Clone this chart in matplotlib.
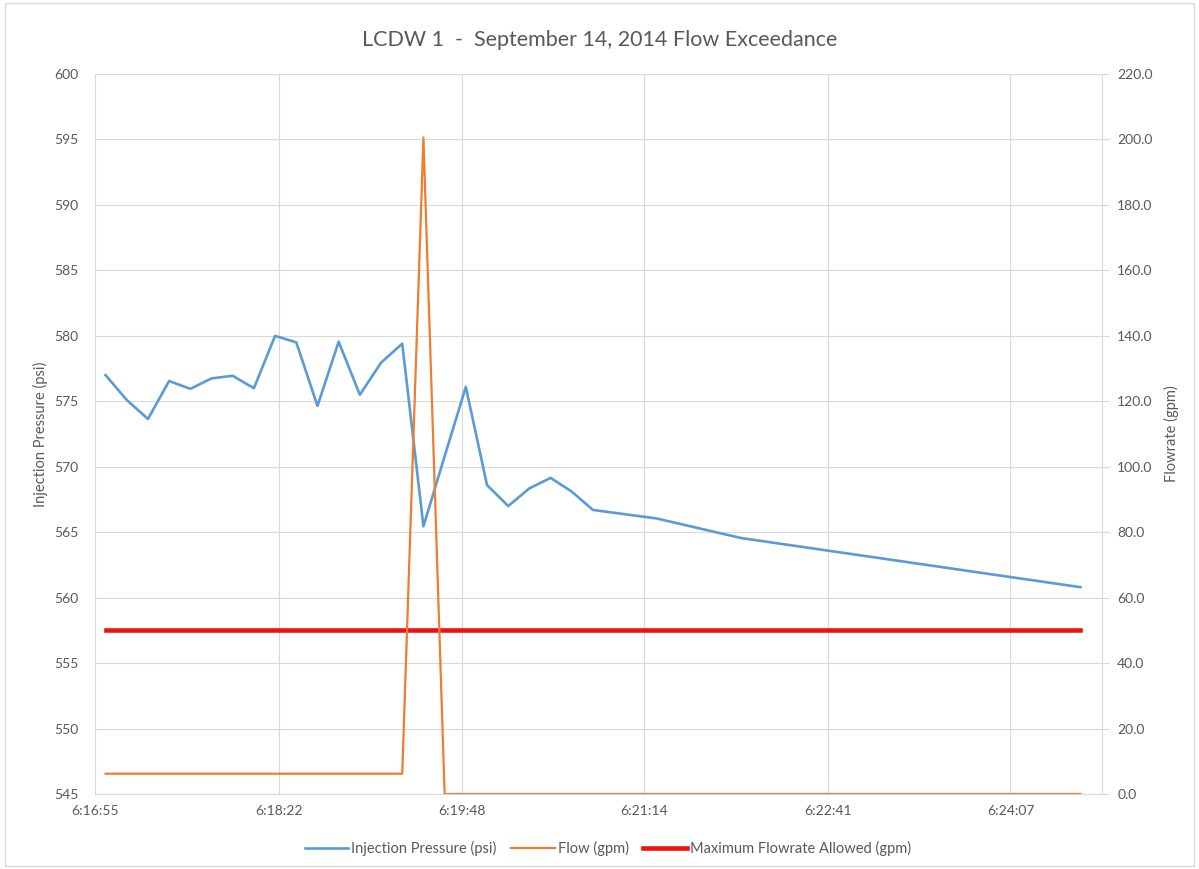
"""LCDW 1 - September 14, 2014 flow exceedance chart (dual axis)."""

import matplotlib

matplotlib.use("Agg")
import matplotlib.pyplot as plt
from matplotlib.patches import Rectangle

plt.rcParams["font.family"] = ["Lato", "DejaVu Sans"]

# sample times (h:mm:ss) shared by all series
times = [
    "6:17:00", "6:17:10", "6:17:20", "6:17:30", "6:17:40", "6:17:50",
    "6:18:00", "6:18:10", "6:18:20", "6:18:30", "6:18:40", "6:18:50",
    "6:19:00", "6:19:10", "6:19:20", "6:19:30", "6:19:40", "6:19:50",
    "6:20:00", "6:20:10", "6:20:20", "6:20:30", "6:20:40", "6:20:50",
    "6:21:20", "6:21:40", "6:22:00", "6:24:40",
]
pressure_psi = [
    577.0, 575.1, 573.65, 576.55, 575.95, 576.75,
    576.95, 576.0, 580.0, 579.5, 574.65, 579.55,
    575.5, 577.95, 579.4, 565.45, 570.8, 576.1,
    568.6, 567.0, 568.35, 569.15, 568.1, 566.7,
    566.05, 565.3, 564.55, 560.8,
]
flow_gpm = [
    6.2, 6.2, 6.2, 6.2, 6.2, 6.2,
    6.2, 6.2, 6.2, 6.2, 6.2, 6.2,
    6.2, 6.2, 6.2, 200.6, 0.0, 0.0,
    0.0, 0.0, 0.0, 0.0, 0.0, 0.0,
    0.0, 0.0, 0.0, 0.0,
]
max_flow_allowed_gpm = 50.0

x_tick_labels = ["6:16:55", "6:18:22", "6:19:48", "6:21:14", "6:22:41", "6:24:07"]
psi_ticks = [545, 550, 555, 560, 565, 570, 575, 580, 585, 590, 595, 600]
gpm_ticks = [0, 20, 40, 60, 80, 100, 120, 140, 160, 180, 200, 220]


def to_seconds(label):
    h, m, s = (int(p) for p in label.split(":"))
    return h * 3600 + m * 60 + s


t = [to_seconds(v) for v in times]
x_min = to_seconds(x_tick_labels[0])
x_max = x_min + 0.0055 * 86400

TEXT = "#595959"
GRID = "#d9d9d9"

fig = plt.figure(figsize=(11.99, 8.69), dpi=100)
fig.patches.append(Rectangle((0.004, 0.003), 0.992, 0.994, transform=fig.transFigure,
                             fill=False, edgecolor=GRID, linewidth=1.0))
ax = fig.add_axes([0.0792, 0.0863, 0.9191 - 0.0792, 0.9148 - 0.0863])
ax2 = ax.twinx()

ax.plot(t, pressure_psi, color="#5b9bd5", linewidth=1.9, label="Injection Pressure (psi)", zorder=3)
ax2.plot(t, flow_gpm, color="#ed7d31", linewidth=1.6, label="Flow (gpm)", zorder=3)
ax2.plot(t, [max_flow_allowed_gpm] * len(t), color="#ee1111", linewidth=3.3,
         label="Maximum Flowrate Allowed (gpm)", zorder=2)

ax.set_xlim(x_min, x_max)
ax.set_ylim(545, 600)
ax2.set_ylim(0, 220)
ax.set_xticks([to_seconds(v) for v in x_tick_labels])
ax.set_xticklabels(x_tick_labels)
ax.set_yticks(psi_ticks)
ax.set_yticklabels([str(v) for v in psi_ticks])
ax2.set_yticks(gpm_ticks)
ax2.set_yticklabels([f"{v:.1f}" for v in gpm_ticks])

ax.grid(True, color=GRID, linewidth=0.8)
ax.set_axisbelow(True)
for a in (ax, ax2):
    for side in ("top", "left", "right", "bottom"):
        a.spines[side].set_visible(False)
ax.spines["bottom"].set_visible(True)
ax.spines["bottom"].set_color(GRID)
ax2.spines["right"].set_visible(True)
ax2.spines["right"].set_color(GRID)

ax.tick_params(axis="x", length=0, pad=8, labelsize=10, labelcolor=TEXT)
ax.tick_params(axis="y", length=0, pad=12, labelsize=10, labelcolor=TEXT)
ax2.tick_params(axis="y", length=5, color=GRID, pad=6, labelsize=10, labelcolor=TEXT)

ax.set_ylabel("Injection Pressure (psi)", fontsize=10.5, color=TEXT, labelpad=4)
ax2.set_ylabel("Flowrate (gpm)", fontsize=10.5, color=TEXT, labelpad=8)

fig.suptitle("LCDW 1  -  September 14, 2014 Flow Exceedance", y=0.966, fontsize=15.5, color=TEXT)

handles = ax.get_lines() + ax2.get_lines()
fig.legend(handles, [h.get_label() for h in handles], loc="lower center", ncol=3,
           bbox_to_anchor=(0.507, 0.0), frameon=False, fontsize=10.5, labelcolor=TEXT,
           handlelength=3.0, handletextpad=0.2, columnspacing=1.0)

fig.savefig("out.png", dpi=100)
